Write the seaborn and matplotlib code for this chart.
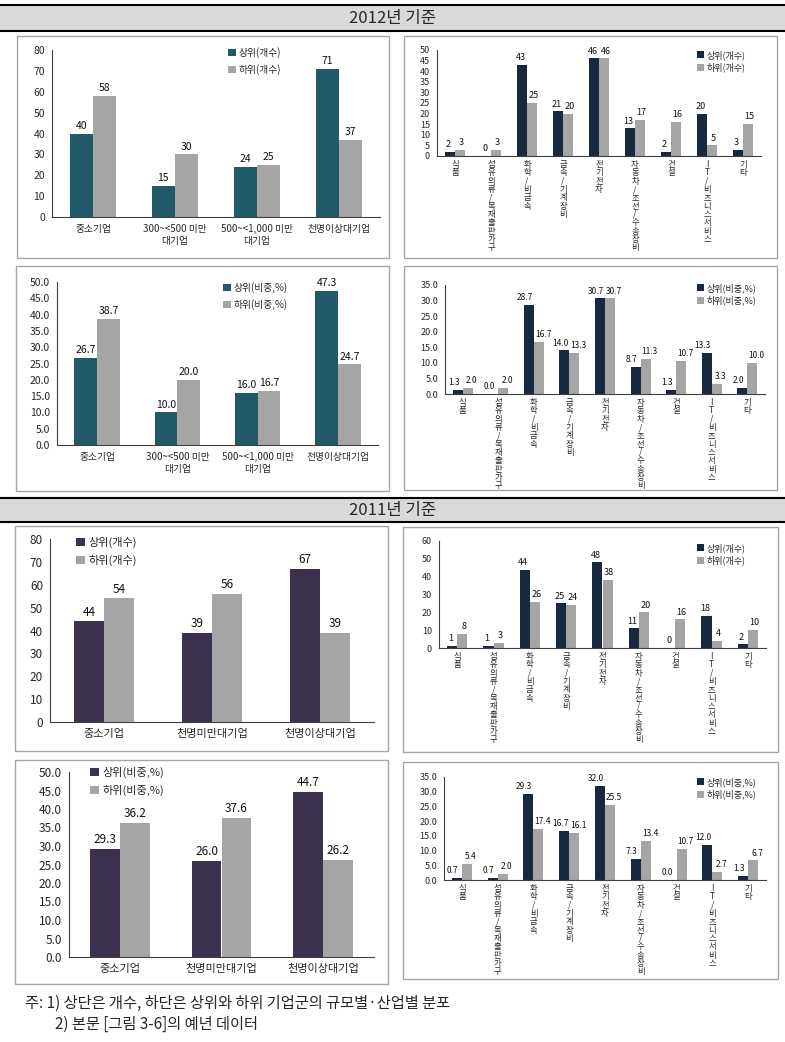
import numpy as np
import pandas as pd
import matplotlib.pyplot as plt
import seaborn as sns
from matplotlib.patches import Rectangle
from matplotlib.lines import Line2D

sns.set_style("white")
plt.rcParams['font.family'] = ['Noto Sans CJK KR', 'DejaVu Sans']

W, H = 785, 1042

# categories
size_2012 = ["중소기업", "300~<500 미만\n대기업", "500~<1,000 미만\n대기업", "천명이상대기업"]
size_2011 = ["중소기업", "천명미만대기업", "천명이상대기업"]
industry = ["식품", "섬유의류/목재출판가구", "화학/비금속", "금속/기계장비", "전기전자",
            "자동차/조선/수송장비", "건설", "IT/비즈니스서비스", "기타"]

# 2012
cnt12_size_top = [40, 15, 24, 71]
cnt12_size_bot = [58, 30, 25, 37]
pct12_size_top = [26.7, 10.0, 16.0, 47.3]
pct12_size_bot = [38.7, 20.0, 16.7, 24.7]
cnt12_ind_top = [2, 0, 43, 21, 46, 13, 2, 20, 3]
cnt12_ind_bot = [3, 3, 25, 20, 46, 17, 16, 5, 15]
pct12_ind_top = [1.3, 0.0, 28.7, 14.0, 30.7, 8.7, 1.3, 13.3, 2.0]
pct12_ind_bot = [2.0, 2.0, 16.7, 13.3, 30.7, 11.3, 10.7, 3.3, 10.0]

# 2011
cnt11_size_top = [44, 39, 67]
cnt11_size_bot = [54, 56, 39]
pct11_size_top = [29.3, 26.0, 44.7]
pct11_size_bot = [36.2, 37.6, 26.2]
cnt11_ind_top = [1, 1, 44, 25, 48, 11, 0, 18, 2]
cnt11_ind_bot = [8, 3, 26, 24, 38, 20, 16, 4, 10]
pct11_ind_top = [0.7, 0.7, 29.3, 16.7, 32.0, 7.3, 0.0, 12.0, 1.3]
pct11_ind_bot = [5.4, 2.0, 17.4, 16.1, 25.5, 13.4, 10.7, 2.7, 6.7]

names_cnt = ["상위(개수)", "하위(개수)"]
names_pct = ["상위(비중,%)", "하위(비중,%)"]

TEAL = "#215968"
NAVY = "#17283F"
PURPLE = "#3D3150"
GRAY = "#A5A5A5"

fig = plt.figure(figsize=(W / 100, H / 100), dpi=100)


def fig_rect(x0, y0, x1, y1):
    return [x0 / W, 1 - y1 / H, (x1 - x0) / W, (y1 - y0) / H]


def header(y0, y1, text):
    fig.add_artist(Rectangle((0, 1 - y1 / H), 1, (y1 - y0) / H, transform=fig.transFigure,
                             facecolor="#D9D9D9", edgecolor="none"))
    for y in (y0, y1):
        fig.add_artist(Line2D([0, 1], [1 - y / H] * 2, transform=fig.transFigure,
                              color="black", lw=1.5))
    fig.text(0.5, 1 - (y0 + y1) / 2 / H, text, ha="center", va="center", fontsize=12)


def box(x0, y0, x1, y1):
    fig.add_artist(Rectangle((x0 / W, 1 - y1 / H), (x1 - x0) / W, (y1 - y0) / H,
                             transform=fig.transFigure, fill=False,
                             edgecolor="#A6A6A6", lw=1.0))


def panel(rect, cats, top, bot, names, color, ymax, step, fmt, width,
          legend_xy, fs, lfs, cfs, vertical=False, lspace=0.6, bfs=None, spread=0):
    ax = fig.add_axes(fig_rect(*rect))
    df = pd.DataFrame({
        "cat": list(cats) * 2,
        "val": list(top) + list(bot),
        "series": [names[0]] * len(cats) + [names[1]] * len(cats),
    })
    sns.barplot(data=df, x="cat", y="val", hue="series", order=list(cats),
                hue_order=names, palette=[color, GRAY], width=width, gap=0,
                saturation=1, ax=ax, legend=True, linewidth=0)
    for i, c in enumerate(ax.containers):
        texts = ax.bar_label(c, fmt=fmt, fontsize=bfs or fs, padding=2, color="#111111")
        if spread:
            # nudge the two labels of a pair apart so they do not collide
            dx = -spread if i == 0 else spread
            for t in texts:
                t.xyann = (dx, t.xyann[1])
    n = len(cats)
    ax.set_xlim(-0.5, n - 0.5)
    ax.set_ylim(0, ymax)
    yt = np.arange(0, ymax + step / 2, step)
    ax.set_yticks(yt)
    ax.set_yticklabels([fmt % v for v in yt], fontsize=fs)
    ax.set_xticks(range(n))
    if vertical:
        labels = ["\n".join(list(c)) for c in cats]
        ax.set_xticklabels(labels, fontsize=cfs, va="top", linespacing=0.9)
        ax.tick_params(axis="x", which="major", length=0, pad=3)
    else:
        ax.set_xticklabels(cats, fontsize=cfs)
        ax.tick_params(axis="x", which="major", length=0, pad=5)
    ax.set_xticks(np.arange(n + 1) - 0.5, minor=True)
    ax.tick_params(axis="x", which="minor", length=4, width=0.8, direction="out", color="#404040")
    ax.tick_params(axis="y", length=3, width=0.8, direction="out", color="#404040", pad=2)
    ax.set_xlabel("")
    ax.set_ylabel("")
    for s in ("top", "right"):
        ax.spines[s].set_visible(False)
    for s in ("left", "bottom"):
        ax.spines[s].set_color("#404040")
        ax.spines[s].set_linewidth(0.8)
    ax.legend(loc="upper left", bbox_to_anchor=(legend_xy[0] / W, 1 - legend_xy[1] / H),
              bbox_transform=fig.transFigure, frameon=False, fontsize=lfs,
              handlelength=0.8, handleheight=0.8, handletextpad=0.3,
              labelspacing=lspace, borderpad=0, borderaxespad=0)
    ax.patch.set_alpha(0)
    return ax


# ---- 2012 ----
header(5, 31, "2012년 기준")
box(17, 36, 389, 258)
box(404, 36, 777, 258)
panel((52, 50, 380, 217), size_2012, cnt12_size_top, cnt12_size_bot, names_cnt, TEAL,
      80, 10, "%.0f", 0.57, (228, 47), 7.5, 7, 7)
panel((437, 50, 761, 156), industry, cnt12_ind_top, cnt12_ind_bot, names_cnt, NAVY,
      50, 5, "%.0f", 0.56, (697, 50), 6.5, 6.5, 6, vertical=True, lspace=0.3, spread=1)

box(16, 266, 389, 491)
box(404, 266, 777, 490)
panel((57, 282, 378, 445), size_2012, pct12_size_top, pct12_size_bot, names_pct, TEAL,
      50, 5, "%.1f", 0.57, (223, 282), 7.5, 7, 7)
panel((445, 285, 765, 394), industry, pct12_ind_top, pct12_ind_bot, names_pct, NAVY,
      35, 5, "%.1f", 0.56, (697, 283), 6.5, 6.5, 6, vertical=True, lspace=0.3, bfs=6,
      spread=3)

# ---- 2011 ----
header(498, 522, "2011년 기준")
box(15, 526, 388, 751)
box(403, 527, 778, 752)
panel((50, 539, 374, 722), size_2011, cnt11_size_top, cnt11_size_bot, names_cnt, PURPLE,
      80, 10, "%.0f", 0.55, (76, 537), 8.5, 8, 8)
panel((439, 541, 766, 648), industry, cnt11_ind_top, cnt11_ind_bot, names_cnt, NAVY,
      60, 10, "%.0f", 0.56, (697, 543), 6.5, 6.5, 6, vertical=True, lspace=0.3, spread=1)

box(15, 760, 388, 984)
box(403, 762, 778, 979)
panel((69, 772, 374, 957), size_2011, pct11_size_top, pct11_size_bot, names_pct, PURPLE,
      50, 5, "%.1f", 0.59, (90, 767), 8.5, 8, 8)
panel((444, 777, 766, 880), industry, pct11_ind_top, pct11_ind_bot, names_pct, NAVY,
      35, 5, "%.1f", 0.56, (697, 777), 6.5, 6.5, 6, vertical=True, lspace=0.3, bfs=6,
      spread=3)

# footnotes
fig.text(25 / W, 1 - 1003 / H, "주: 1) 상단은 개수, 하단은 상위와 하위 기업군의 규모별·산업별 분포",
         ha="left", va="center", fontsize=11)
fig.text(55 / W, 1 - 1024 / H, "2) 본문 [그림 3-6]의 예년 데이터",
         ha="left", va="center", fontsize=11)

fig.savefig("out.png", dpi=100)
